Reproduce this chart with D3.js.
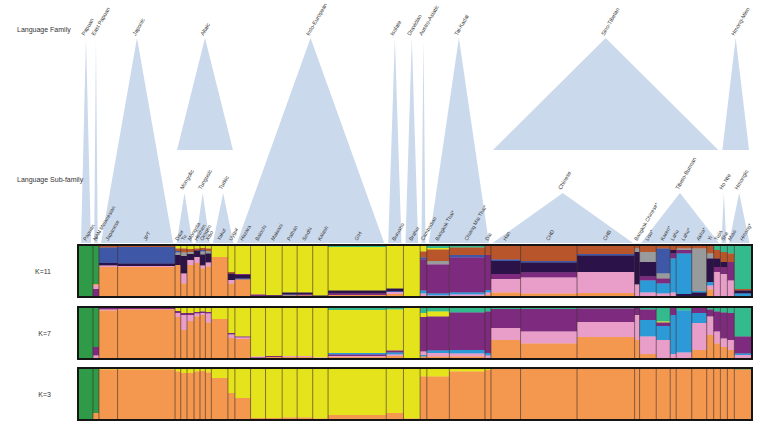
<!DOCTYPE html>
<html><head><meta charset="utf-8">
<script src="https://cdn.jsdelivr.net/npm/d3@7"></script>
<style>
body{margin:0;background:#fff}
svg{display:block}
text{font-family:"Liberation Sans",Arial,sans-serif;fill:#333}
</style>
</head><body>
<svg id="chart" width="762" height="424"></svg>
<script>
// ---------------- DATA ----------------
const populations = ["Papuan","NAN Melanesian","Japanese","JPT","Daur","Tu","Mongola","Hezhen","Oroqen","Xibo","Yakut","Uygur","Hazara","Balochi","Makrani","Pathan","Sindhi","Kalash","GIH","Burusho","Brahui","Cambodian","Bangkok Thai*","Chiang Mai Thai*","Dai","Han","CHD","CHB","Bangkok Chinese*","Lisu*","Karen*","Lahu","Lahu*","Akha*","Yi","Tujia","She","Miao","Hmong*"];
const sampleSizes = [14,6,18.7,57.6,5.7,6.3,7,6,5.4,6,16.6,7,15.7,15,16.7,15,15.6,15.4,58.3,17.3,16.7,6.7,22.6,35.7,6,29.7,56.6,57.7,5,16.7,14,6,15.6,15,7,6.7,7,7,16.7];

const familyNames = ["Papuan","East Papuan","Japonic","Altaic","Indo-European","Isolate","Dravidian","Austro-Asiatic","Tai-Kadai","Sino-Tibetan","Hmong-Mien"];
const familyFirst = [0,1,2,4,12,19,20,21,22,25,36];
const familyLast  = [0,1,3,11,18,19,20,21,24,35,38];
const familyHasSub = [false,false,false,true,false,false,false,false,false,true,true];

const subNames = ["Mongolic","Tungusic","Turkic","Chinese","Tibeto-Burman","Ho Nte","Hmongic"];
const subFirst = [4,7,10,25,29,36,37];
const subLast  = [6,9,11,27,35,36,38];

const kLabels = ["K=11","K=7","K=3"];

// ancestry proportions per population, listed top to bottom
const k11 = [
 [["g",100]],
 [["g",76],["o",3],["k",7],["p",14]],
 [["r",3],["b",31],["n",5],["k",3],["o",58]],
 [["r",2],["b",33],["n",5],["k",2],["o",58]],
 [["y",5],["r",5],["b",3],["e",5],["n",20],["o",62]],
 [["y",5],["r",8],["e",7],["n",35],["k",20],["o",25]],
 [["y",6],["r",6],["e",4],["n",12],["k",10],["o",62]],
 [["y",5],["r",4],["n",13],["k",12],["o",66]],
 [["y",4],["r",4],["b",3],["e",6],["n",22],["k",6],["o",55]],
 [["y",5],["r",5],["e",5],["n",18],["k",8],["o",59]],
 [["y",22],["o",78]],
 [["y",52],["r",3],["n",13],["k",7],["o",25]],
 [["y",56],["p",2],["n",7],["b",2],["o",33]],
 [["y",97],["p",3]],
 [["y",98],["n",1],["p",1]],
 [["y",93],["n",4],["b",2],["o",1]],
 [["y",93],["n",4],["p",2],["o",1]],
 [["y",99],["n",1]],
 [["t",2],["y",87],["n",6],["p",3],["o",2]],
 [["y",85],["n",5],["b",2],["k",4],["o",4]],
 [["y",100]],
 [["y",11],["r",12],["b",4],["p",62],["c",6],["k",5]],
 [["t",4],["y",3],["r",23],["e",7],["p",58],["c",4],["k",1]],
 [["t",3],["r",15],["b",5],["p",70],["c",4],["k",3]],
 [["r",18],["p",70],["c",5],["k",5],["o",2]],
 [["r",27],["b",3],["n",26],["p",10],["k",27],["o",7]],
 [["r",30],["b",3],["n",20],["p",10],["k",32],["o",5]],
 [["r",16],["b",3],["n",33],["k",42],["o",6]],
 [["r",5],["e",7],["n",65],["k",23]],
 [["r",12],["e",20],["n",29],["p",8],["c",24],["k",7]],
 [["r",5],["b",50],["e",10],["p",10],["c",20],["k",5]],
 [["r",8],["n",7],["p",10],["c",68],["k",7]],
 [["r",5],["e",3],["p",7],["c",81],["n",4]],
 [["r",5],["e",85],["c",3],["n",7]],
 [["r",15],["e",10],["n",47],["c",7],["k",8],["o",13]],
 [["t",8],["r",17],["n",17],["p",10],["k",48]],
 [["t",12],["r",20],["n",10],["p",14],["k",44]],
 [["t",15],["r",17],["p",37],["k",31]],
 [["t",86],["r",3],["n",6],["c",5]]
];
const k7 = [
 [["g",100]],
 [["g",78],["p",17],["k",5]],
 [["p",3],["k",2],["o",95]],
 [["p",2],["k",1],["o",97]],
 [["y",6],["p",4],["k",8],["o",82]],
 [["y",10],["p",4],["k",30],["o",56]],
 [["y",10],["p",4],["k",12],["o",74]],
 [["y",8],["p",3],["k",6],["o",83]],
 [["y",7],["p",3],["k",4],["o",86]],
 [["y",8],["p",3],["k",18],["o",71]],
 [["y",22],["o",78]],
 [["y",50],["p",3],["k",7],["o",40]],
 [["y",57],["p",2],["k",3],["o",38]],
 [["y",97],["k",2],["p",1]],
 [["y",96],["p",2],["o",2]],
 [["y",96],["k",2],["o",2]],
 [["y",96],["k",2],["o",2]],
 [["y",99],["k",1]],
 [["t",4],["y",86],["c",3],["p",3],["k",2],["o",2]],
 [["t",3],["y",82],["p",4],["c",4],["k",3],["o",4]],
 [["y",100]],
 [["t",10],["y",8],["p",69],["k",7],["c",3],["o",3]],
 [["t",7],["y",10],["p",68],["c",5],["k",7],["o",3]],
 [["t",9],["p",75],["c",7],["k",6],["o",3]],
 [["t",7],["p",83],["c",5],["k",5]],
 [["t",2],["p",38],["k",24],["o",36]],
 [["t",2],["p",45],["k",24],["o",29]],
 [["t",1],["p",27],["k",30],["o",42]],
 [["p",14],["k",50],["o",36]],
 [["t",3],["p",21],["c",33],["k",35],["o",8]],
 [["t",27],["y",2],["p",7],["c",28],["k",36]],
 [["p",14],["c",78],["k",8]],
 [["t",5],["c",84],["k",11]],
 [["p",10],["c",20],["k",54],["o",16]],
 [["t",3],["p",14],["k",37],["o",46]],
 [["t",7],["p",40],["k",24],["o",29]],
 [["t",9],["p",52],["k",17],["o",22]],
 [["t",10],["p",54],["k",20],["o",16]],
 [["t",57],["p",34],["c",3],["k",6]]
];
const k3 = [
 [["g",100]],
 [["g",88],["o",12]],
 [["y",1],["o",99]],
 [["y",1],["o",99]],
 [["y",5],["o",95]],
 [["y",8],["o",92]],
 [["y",8],["o",92]],
 [["y",5],["o",95]],
 [["y",4],["o",96]],
 [["y",7],["o",93]],
 [["y",18],["o",82]],
 [["y",48],["o",52]],
 [["y",58],["o",42]],
 [["y",98],["o",2]],
 [["y",98],["o",2]],
 [["y",97],["o",3]],
 [["y",97],["o",3]],
 [["y",99],["o",1]],
 [["y",92],["o",8]],
 [["y",88],["o",12]],
 [["y",99],["o",1]],
 [["y",15],["o",85]],
 [["y",15],["o",85]],
 [["y",5],["o",95]],
 [["y",2],["o",98]],
 [["o",100]],[["o",100]],[["o",100]],[["o",100]],[["o",100]],[["o",100]],
 [["o",100]],[["o",100]],[["o",100]],[["o",100]],[["o",100]],[["o",100]],[["o",100]],
 [["g",1],["o",99]]
];

// ---------------- STYLE ----------------
const palette = {g:"#2f9a47",o:"#f5984f",b:"#3e57a6",n:"#2b1248",k:"#e99dc9",y:"#e4e31c",r:"#b9552b",t:"#33bb8e",c:"#2b9ad6",e:"#999a9c",p:"#7e2a7f"};
const triFill = "#cbd9ec";

const svg = d3.select("#chart");
const cum = [0]; sampleSizes.forEach(s => cum.push(cum[cum.length-1] + s));
const x = d3.scaleLinear().domain([0, cum[cum.length-1]]).range([79, 751]);
const center = i => x((cum[i] + cum[i+1]) / 2);

// ---------------- TRIANGLES ----------------
const famApexY = 38, famBaseSub = 150, popBaseY = 243, subApexY = 193;
const gTri = svg.append("g");
familyNames.forEach((nm, f) => {
  const x0 = x(cum[familyFirst[f]]), x1 = x(cum[familyLast[f] + 1]);
  const w = x1 - x0, inset = Math.min(2, w * 0.2);
  const ax = (x0 + x1) / 2;
  const by = familyHasSub[f] ? famBaseSub : popBaseY;
  gTri.append("path")
    .attr("d", `M${ax},${famApexY}L${x0+inset},${by}L${x1-inset},${by}Z`)
    .attr("fill", triFill);
  svg.append("text").attr("transform", `translate(${ax-1.5},${famApexY-2}) rotate(-60)`)
    .attr("font-size", 5.5).text(nm);
});
subNames.forEach((nm, s) => {
  const x0 = x(cum[subFirst[s]]), x1 = x(cum[subLast[s] + 1]);
  const w = x1 - x0, inset = Math.min(1.5, w * 0.15);
  const ax = (x0 + x1) / 2;
  gTri.append("path")
    .attr("d", `M${ax},${subApexY}L${x0+inset},${popBaseY}L${x1-inset},${popBaseY}Z`)
    .attr("fill", triFill);
  svg.append("text").attr("transform", `translate(${ax-1.5},${subApexY-3}) rotate(-60)`)
    .attr("font-size", 5.5).text(nm);
});

// population labels
populations.forEach((p, i) => {
  svg.append("text").attr("transform", `translate(${center(i)},${241}) rotate(-60)`)
    .attr("font-size", 5.2).text(p);
});

// row titles
svg.append("text").attr("x", 17).attr("y", 32).attr("font-size", 7).text("Language Family");
svg.append("text").attr("x", 17).attr("y", 182).attr("font-size", 7).text("Language Sub-family");

// ---------------- PANELS ----------------
const panels = [k11, k7, k3];
const panelTops = [246, 308, 369];
const panelH = 50;
panels.forEach((data, pi) => {
  const top = panelTops[pi];
  const y = d3.scaleLinear().domain([0, 1]).range([top, top + panelH]);
  const g = svg.append("g");
  data.forEach((comp, i) => {
    const tot = d3.sum(comp, d => d[1]);
    let acc = 0;
    const xa = x(cum[i]), xb = x(cum[i+1]);
    comp.forEach(([key, v]) => {
      const f0 = acc / tot, f1 = (acc + v) / tot;
      acc += v;
      g.append("rect").attr("x", xa).attr("width", xb - xa + 0.3)
        .attr("y", y(f0)).attr("height", y(f1) - y(f0) + 0.3)
        .attr("fill", palette[key]);
    });
  });
  // separators
  g.selectAll("line.sep").data(d3.range(1, populations.length)).join("line")
    .attr("x1", i => x(cum[i])).attr("x2", i => x(cum[i]))
    .attr("y1", y(0)).attr("y2", y(1))
    .attr("stroke", "#3a2a2a").attr("stroke-width", 0.6);
  g.append("rect").attr("x", 78).attr("y", top - 1).attr("width", 674).attr("height", panelH + 2)
    .attr("fill", "none").attr("stroke", "#151515").attr("stroke-width", 2);
  svg.append("text").attr("x", 51).attr("y", top + panelH / 2 + 2.5)
    .attr("text-anchor", "end").attr("font-size", 7).text(kLabels[pi]);
});
</script>
</body></html>
